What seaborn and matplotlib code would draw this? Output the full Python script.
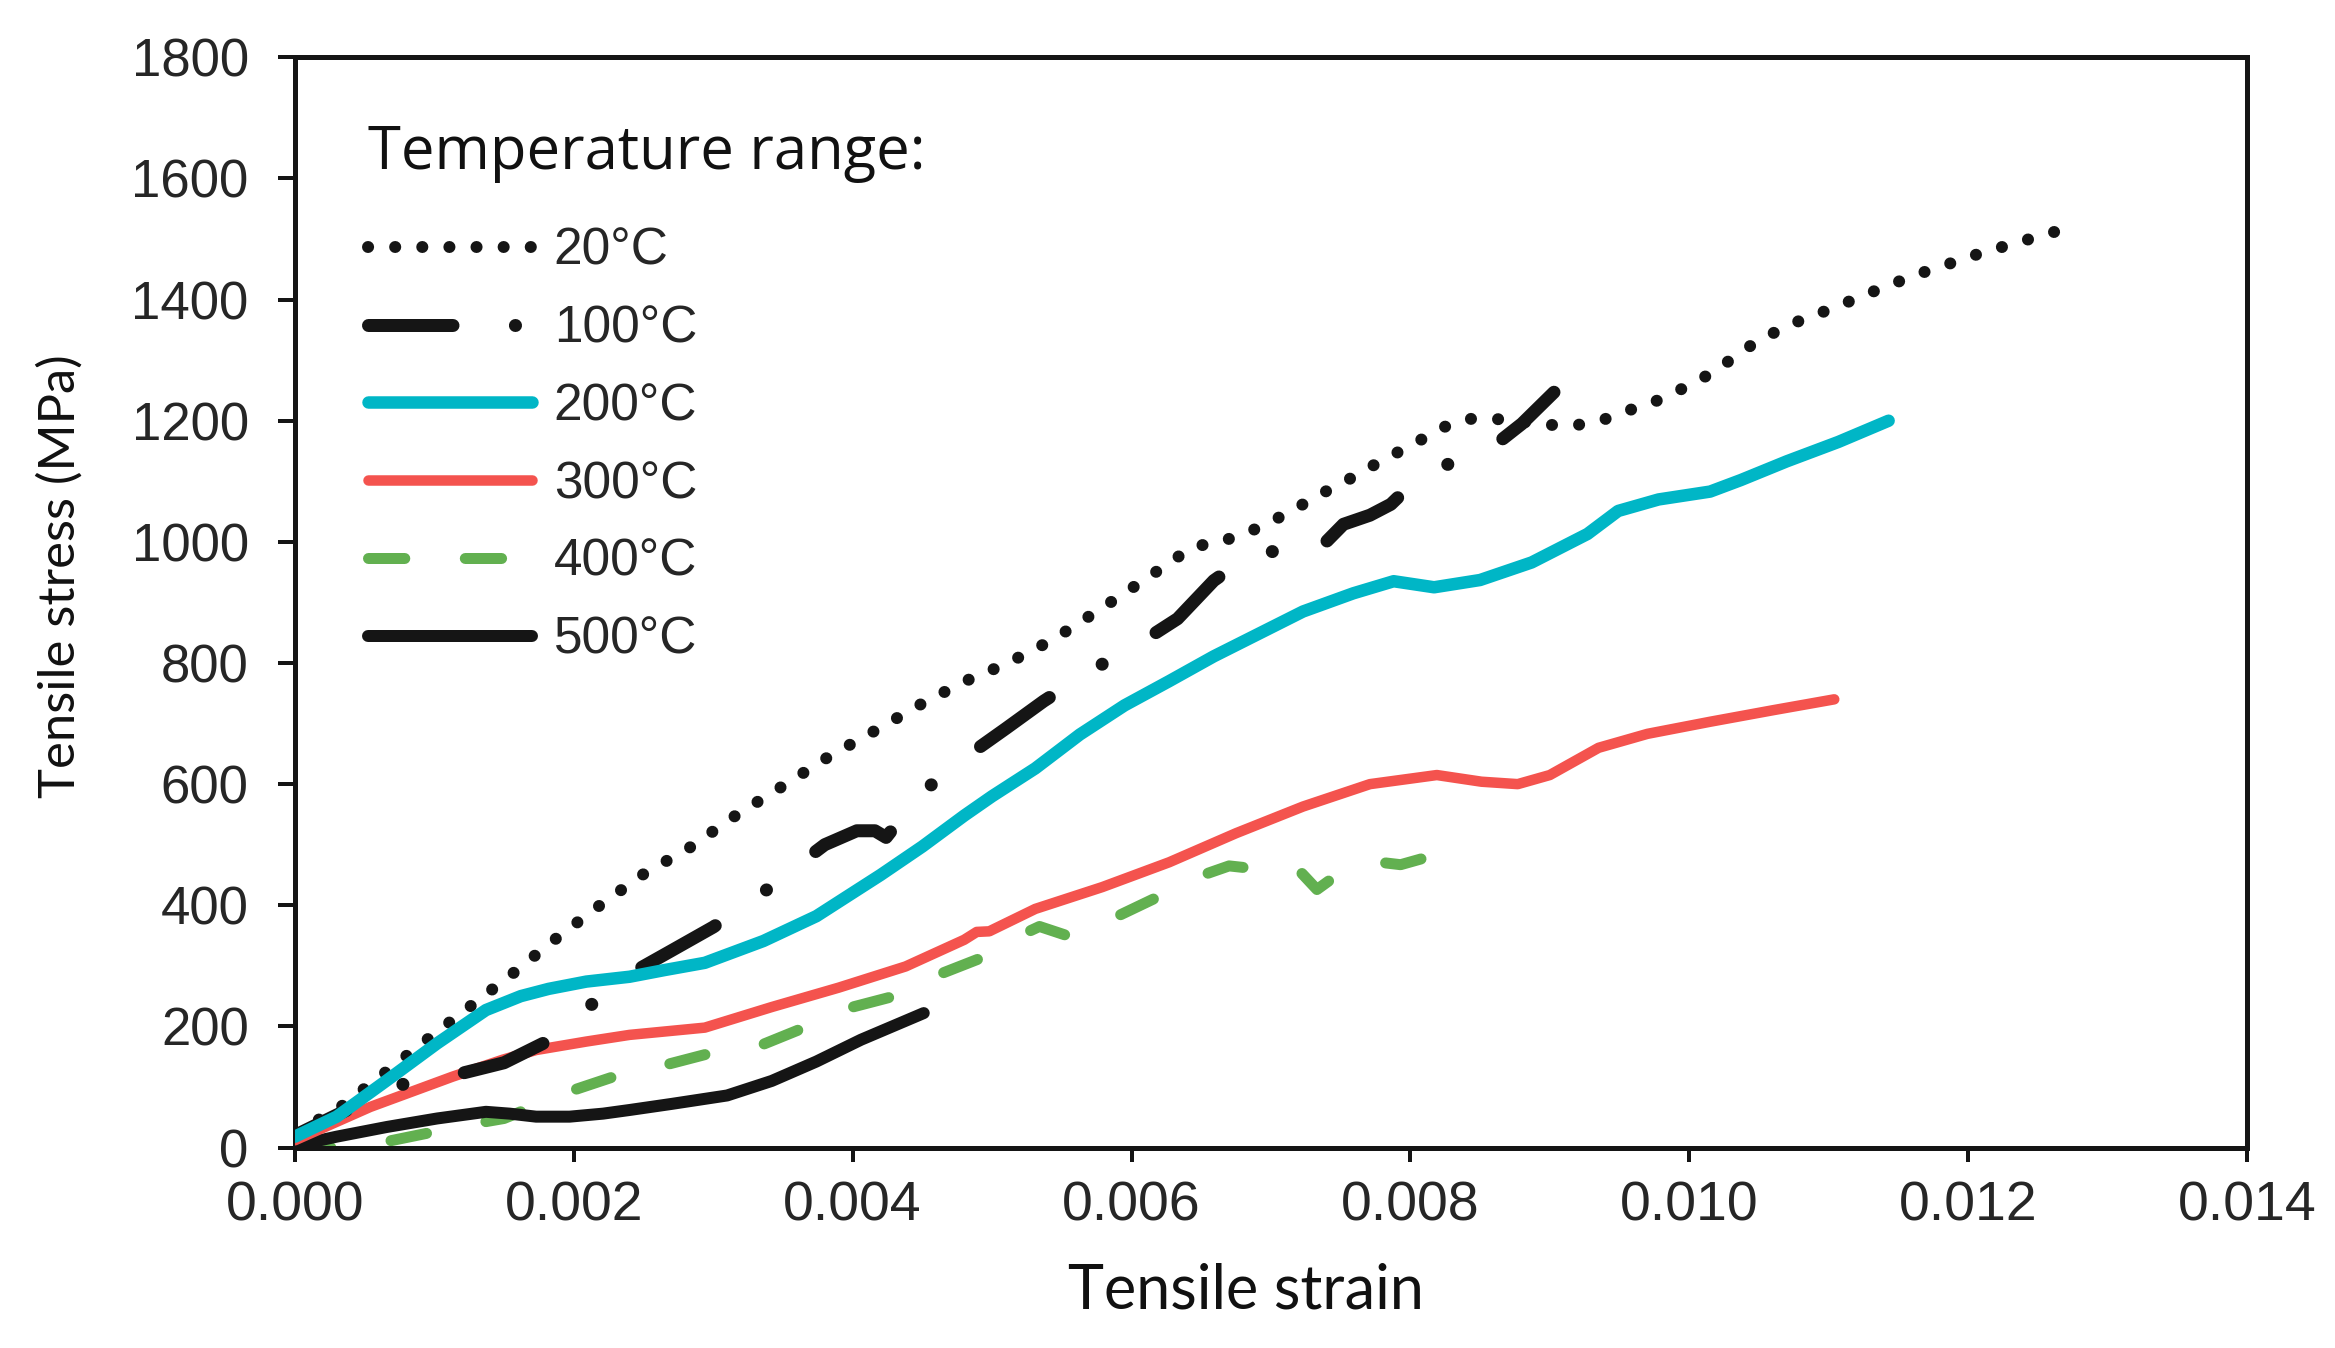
import numpy as np
import matplotlib
matplotlib.use("Agg")
import matplotlib.pyplot as plt
import seaborn as sns

# ---------------- data ----------------
labels = ["20°C", "100°C", "200°C", "300°C", "400°C", "500°C"]

strain_20 = [0, 0.0003, 0.00061, 0.00093, 0.00124, 0.00155, 0.00185, 0.00217, 0.00249, 0.00283,
             0.00316, 0.0035, 0.00384, 0.00419, 0.00452, 0.00488, 0.00508, 0.00544, 0.00577, 0.00611,
             0.00644, 0.00662, 0.00682, 0.00699, 0.00717, 0.00734, 0.00752, 0.0077, 0.00787, 0.00805,
             0.00822, 0.00842, 0.00861, 0.0088, 0.00901, 0.0092, 0.0094, 0.00959, 0.00978, 0.00996,
             0.01014, 0.0103, 0.01046, 0.01063, 0.01082, 0.011, 0.01118, 0.01137, 0.01155, 0.01174,
             0.01193, 0.01212, 0.01231, 0.0125, 0.0127]
stress_20 = [25, 62, 117, 175, 230, 285, 341, 397, 450, 495,
             548, 597, 647, 692, 736, 778, 796, 839, 888, 940,
             992, 999, 1014, 1032, 1054, 1077, 1098, 1122, 1143, 1165,
             1188, 1203, 1203, 1198, 1193, 1193, 1203, 1219, 1234, 1254,
             1276, 1301, 1327, 1348, 1368, 1383, 1400, 1418, 1434, 1450,
             1464, 1479, 1491, 1504, 1517]

strain_100 = [0, 0.0004, 0.00074, 0.0011, 0.0015, 0.00178, 0.00207, 0.00236, 0.0027, 0.003,
              0.00332, 0.00361, 0.0038, 0.00403, 0.00416, 0.00424, 0.00449, 0.0048, 0.0051, 0.00537,
              0.00572, 0.00606, 0.00633, 0.00659, 0.00691, 0.00728, 0.00752, 0.00771, 0.00786, 0.00813,
              0.00848, 0.0088, 0.00903]
stress_100 = [20, 65, 103, 117, 140, 172, 225, 281, 325, 364,
              414, 467, 500, 523, 523, 512, 585, 643, 692, 737,
              789, 833, 873, 936, 988, 973, 1029, 1044, 1062, 1122,
              1137, 1195, 1247]

strain_200 = [0, 0.0003, 0.00066, 0.00102, 0.00137, 0.00162, 0.00182, 0.00209, 0.0024, 0.00265,
              0.00294, 0.00336, 0.00374, 0.0042, 0.0045, 0.0048, 0.005, 0.00531, 0.00563, 0.00595,
              0.00627, 0.00659, 0.00691, 0.00723, 0.00759, 0.00788, 0.00817, 0.0085, 0.00887, 0.00927,
              0.00949, 0.00978, 0.01015, 0.01037, 0.0107, 0.01107, 0.01143]
stress_200 = [18, 51, 111, 172, 227, 250, 262, 274, 282, 293,
              305, 341, 382, 450, 497, 548, 580, 626, 682, 730,
              770, 811, 848, 885, 915, 935, 925, 937, 966, 1013,
              1051, 1070, 1083, 1102, 1133, 1165, 1200]

strain_300 = [0, 0.00054, 0.00113, 0.00149, 0.00173, 0.00209, 0.0024, 0.00294, 0.00342, 0.0039,
              0.00438, 0.0048, 0.00489, 0.00498, 0.00531, 0.00579, 0.00627, 0.00675, 0.00723, 0.00771,
              0.00819, 0.00851, 0.00877, 0.009, 0.00935, 0.0097, 0.01015, 0.0106, 0.01104]
stress_300 = [12, 67, 117, 145, 161, 175, 186, 198, 232, 264,
              299, 343, 356, 357, 394, 430, 471, 519, 563, 600,
              615, 604, 600, 615, 660, 683, 703, 722, 740]

strain_400 = [0, 0.0003, 0.00066, 0.001, 0.0013, 0.0015, 0.00165, 0.0018, 0.002, 0.0023,
              0.00265, 0.003, 0.0033, 0.0036, 0.004, 0.0043, 0.0046, 0.0049, 0.0052, 0.00534,
              0.00555, 0.0059, 0.0062, 0.0065, 0.0067, 0.0069, 0.0072, 0.00733, 0.00742, 0.0076,
              0.00778, 0.00793, 0.0081]
stress_400 = [-8, 1, 10, 26, 40, 48, 62, 80, 95, 118,
              136, 157, 165, 193, 232, 250, 284, 311, 350, 365,
              349, 382, 415, 449, 465, 460, 458, 426, 441, 458,
              471, 467, 478]

strain_500 = [0, 0.0003, 0.00066, 0.00102, 0.00137, 0.00154, 0.00173, 0.00197, 0.00221, 0.0024,
              0.0027, 0.0031, 0.00342, 0.00374, 0.00406, 0.00451]
stress_500 = [3, 18, 34, 48, 59, 56, 51, 51, 56, 62,
              72, 86, 110, 142, 178, 222]

x_ticks = [0.000, 0.002, 0.004, 0.006, 0.008, 0.010, 0.012, 0.014]
x_tick_labels = ["0.000", "0.002", "0.004", "0.006", "0.008", "0.010", "0.012", "0.014"]
y_ticks = [0, 200, 400, 600, 800, 1000, 1200, 1400, 1600, 1800]

# ---------------- style ----------------
sns.set_style("white")
plt.rcParams['font.family'] = ['Liberation Sans', 'DejaVu Sans']

PX = 72 / 100.0  # points per pixel at dpi 100

fig = plt.figure(figsize=(23.35, 13.48), dpi=100)
ax = fig.add_axes([0.1263, 0.1487, 0.9623 - 0.1263, 0.9575 - 0.1487])

DARK = "#151515"
CYAN = "#00B6C6"
RED = "#F4534E"
GREEN = "#62B050"

series = [
    (strain_20, stress_20, labels[0], DARK, 12, (0, (0.01, 2.25)), 6),
    (strain_100, stress_100, labels[1], DARK, 13, (2.1, (6.5, 4.8, 0.01, 4.8)), 5),
    (strain_200, stress_200, labels[2], CYAN, 12.5, "-", 7),
    (strain_300, stress_300, labels[3], RED, 10.5, "-", 4),
    (strain_400, stress_400, labels[4], GREEN, 11, (0, (3.3, 5.5)), 2),
    (strain_500, stress_500, labels[5], DARK, 12, "-", 3),
]

for xs, ys, lab, col, lwpx, ls, z in series:
    sns.lineplot(x=np.array(xs), y=np.array(ys), ax=ax, color=col,
                 linewidth=lwpx * PX, linestyle=ls, dash_capstyle="round",
                 solid_capstyle="round", solid_joinstyle="round", dash_joinstyle="round",
                 label=lab, sort=False, estimator=None, zorder=z)

ax.set_xlim(0, 0.014)
ax.set_ylim(0, 1800)
ax.set_xticks(x_ticks)
ax.set_xticklabels(x_tick_labels)
ax.set_yticks(y_ticks)
ax.set_yticklabels([str(v) for v in y_ticks])

for s in ax.spines.values():
    s.set_visible(True)
    s.set_linewidth(5 * PX)
    s.set_color(DARK)

ax.tick_params(axis="x", which="major", direction="out", length=14 * PX, width=4 * PX,
               color=DARK, pad=14, labelsize=40, labelcolor="#262626", bottom=True, top=False)
ax.tick_params(axis="y", which="major", direction="out", length=17 * PX, width=4 * PX,
               color=DARK, pad=21, labelsize=38, labelcolor="#262626", left=True, right=False)

ax.set_xlabel("Tensile strain", fontsize=44, family=["Lato", "DejaVu Sans"], color="#111111")
ax.xaxis.set_label_coords(0.487, -0.105)
ax.set_ylabel("Tensile stress (MPa)", fontsize=36.5, family=["Lato", "DejaVu Sans"], color="#111111")
ax.yaxis.set_label_coords(-0.108, 0.524)

LEG_FS = 37
leg = ax.legend(loc="upper left", bbox_to_anchor=(0.0373, 0.940), frameon=False,
                fontsize=LEG_FS, title="Temperature range:",
                title_fontproperties={"family": ["Open Sans", "DejaVu Sans"], "size": 43},
                alignment="left", handlelength=3.19, handletextpad=0.43,
                labelspacing=0.56, borderpad=0, borderaxespad=0)
leg._legend_box.sep = 0.56 * LEG_FS + 11
for t in leg.get_texts():
    t.set_color("#262626")
leg.get_title().set_color("#111111")
leg.get_lines()[1].set_linestyle((0, (6.5, 4.8, 0.01, 4.8)))

fig.savefig("out.png", dpi=100, facecolor="white")
